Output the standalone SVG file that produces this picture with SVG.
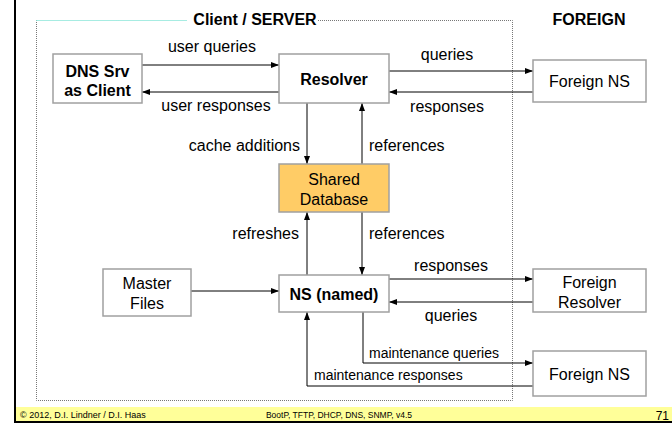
<svg xmlns="http://www.w3.org/2000/svg" width="672" height="423" viewBox="0 0 672 423">
<defs>
<marker id="ah" viewBox="0 0 8 6" refX="8" refY="3" markerWidth="8" markerHeight="6" markerUnits="userSpaceOnUse" orient="auto">
<path d="M0,0 L8,3 L0,6 z" fill="#000"/>
</marker>
<style>
.box{fill:#fff;stroke:#a0a0a0;stroke-width:1.5}
.db{fill:#ffcc66;stroke:#a0a0a0;stroke-width:1.5}
.t{font-family:"Liberation Sans",Arial,sans-serif;font-size:16px;fill:#000}
.b{font-weight:bold}
.s{font-size:14px}
.c{text-anchor:middle}
.e{text-anchor:end}
.con{fill:none;stroke:#000;stroke-width:1;marker-end:url(#ah)}
.dot{fill:none;stroke:#777;stroke-width:1;stroke-dasharray:1 1}
.f{font-family:"Liberation Sans",Arial,sans-serif;font-size:9px;fill:#000}
</style>
</defs>
<rect x="0" y="0" width="672" height="423" fill="#fff"/>
<g id="frame">
<rect x="16" y="407" width="656" height="14" fill="#ffff99"/>
<line x1="15" y1="0" x2="15" y2="423" stroke="#000" stroke-width="2"/>
<line x1="14" y1="422" x2="672" y2="422" stroke="#000" stroke-width="2"/>
<path class="dot" d="M318,20.5 H512.5 V400.5 H36.5 V20.5"/>
<line x1="36.5" y1="20.5" x2="187" y2="20.5" stroke="#4fd8c4" stroke-width="1" stroke-dasharray="1 1"/>
<text class="t b c" x="255" y="25">Client / SERVER</text>
<text class="t b c" x="589" y="25">FOREIGN</text>
<text class="f" x="20" y="418">© 2012, D.I. Lindner / D.I. Haas</text>
<text class="f c" x="339" y="418" style="font-size:8.5px">BootP, TFTP, DHCP, DNS, SNMP, v4.5</text>
<text class="f e" x="669" y="420" style="font-size:12px">71</text>
</g>
<g id="connectors">
<path class="con" d="M142,65 H279"/>
<path class="con" d="M279,92 H142"/>
<path class="con" d="M389,71 H533"/>
<path class="con" d="M533,92 H389"/>
<path class="con" d="M307,103 V164"/>
<path class="con" d="M362,164 V103"/>
<path class="con" d="M307,275 V212"/>
<path class="con" d="M362,212 V275"/>
<path class="con" d="M191,291 H279"/>
<path class="con" d="M389,279 H533"/>
<path class="con" d="M533,302 H389"/>
<path class="con" d="M363,312 V363 H533"/>
<path class="con" d="M533,386 H307 V312"/>
<text class="t c" x="212" y="52">user queries</text>
<text class="t c" x="216" y="111">user responses</text>
<text class="t c" x="447" y="60">queries</text>
<text class="t c" x="447" y="112">responses</text>
<text class="t e" x="300" y="151">cache additions</text>
<text class="t" x="369" y="151">references</text>
<text class="t e" x="299" y="239">refreshes</text>
<text class="t" x="369" y="239">references</text>
<text class="t c" x="451" y="271">responses</text>
<text class="t c" x="451" y="321">queries</text>
<text class="t s" x="369" y="358">maintenance queries</text>
<text class="t s" x="314" y="380">maintenance responses</text>
</g>
<g id="dns-client">
<rect class="box" x="53" y="54" width="89" height="49"/>
<text class="t b c" x="97.5" y="77">DNS Srv</text>
<text class="t b c" x="97.5" y="96">as Client</text>
</g>
<g id="resolver">
<rect class="box" x="279" y="54" width="110" height="49"/>
<text class="t b c" x="334" y="85">Resolver</text>
</g>
<g id="foreign-ns-1">
<rect class="box" x="533" y="60" width="113" height="42"/>
<text class="t c" x="589.5" y="87">Foreign NS</text>
</g>
<g id="shared-db">
<rect class="db" x="279" y="164" width="110" height="48"/>
<text class="t c" x="334" y="185">Shared</text>
<text class="t c" x="334" y="205">Database</text>
</g>
<g id="master-files">
<rect class="box" x="103" y="269" width="88" height="47"/>
<text class="t c" x="147" y="289">Master</text>
<text class="t c" x="147" y="309">Files</text>
</g>
<g id="ns-named">
<rect class="box" x="279" y="275" width="110" height="37"/>
<text class="t b c" x="334" y="300">NS (named)</text>
</g>
<g id="foreign-resolver">
<rect class="box" x="533" y="269" width="113" height="43"/>
<text class="t c" x="589.5" y="288">Foreign</text>
<text class="t c" x="589.5" y="308">Resolver</text>
</g>
<g id="foreign-ns-2">
<rect class="box" x="533" y="351" width="113" height="45"/>
<text class="t c" x="589.5" y="380">Foreign NS</text>
</g>
</svg>
